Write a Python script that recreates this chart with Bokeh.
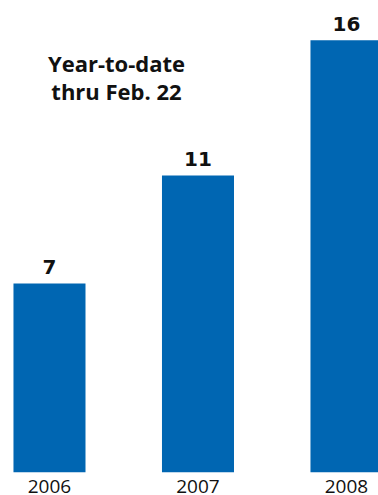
from bokeh.plotting import figure
from bokeh.models import Range1d, Label, ColumnDataSource
from bokeh.core.properties import value
from bokeh.embed import file_html
from bokeh.resources import INLINE

years = ["2006", "2007", "2008"]
counts = [7, 11, 16]
title_lines = ["Year-to-date", "thru Feb. 22"]

xs = list(range(len(years)))
src = ColumnDataSource(dict(x=xs, y=counts, lab=[str(c) for c in counts]))

p = figure(width=378, height=495, output_backend="svg", toolbar_location=None,
           min_border_left=8, min_border_right=0, min_border_top=8, min_border_bottom=0)
p.x_range = Range1d(-0.276, -0.276 + 370 / 148.5)
p.y_range = Range1d(0, 17.18)
p.vbar(x="x", top="y", width=0.485, bottom=0, source=src, color="#0066b2", line_color=None)
p.text(x="x", y="y", text="lab", source=src, text_align="center", text_baseline="alphabetic",
       y_offset=-16, text_font=value("DejaVu Sans"), text_font_style="bold",
       text_font_size="20px", text_color="#111111")

p.yaxis.visible = False
p.xaxis.ticker = xs
p.xaxis.major_label_overrides = {i: y for i, y in enumerate(years)}
p.xaxis.axis_line_color = None
p.xaxis.major_tick_line_color = None
p.xaxis.minor_tick_line_color = None
p.xaxis.major_label_standoff = 1
p.xaxis.major_label_text_font = "Open Sans"
p.xaxis.major_label_text_font_size = "19px"
p.xaxis.major_label_text_color = "#111111"
p.grid.visible = False
p.outline_line_color = None

for i, t in enumerate(title_lines):
    p.add_layout(Label(x=108, y=462 - 52 - 28 * i, x_units="screen", y_units="screen", text=t,
                       text_align="center", text_baseline="alphabetic",
                       text_font="Open Sans", text_font_style="bold",
                       text_font_size="22px", text_color="#111111"))

open("out.html", "w").write(file_html(p, INLINE))
